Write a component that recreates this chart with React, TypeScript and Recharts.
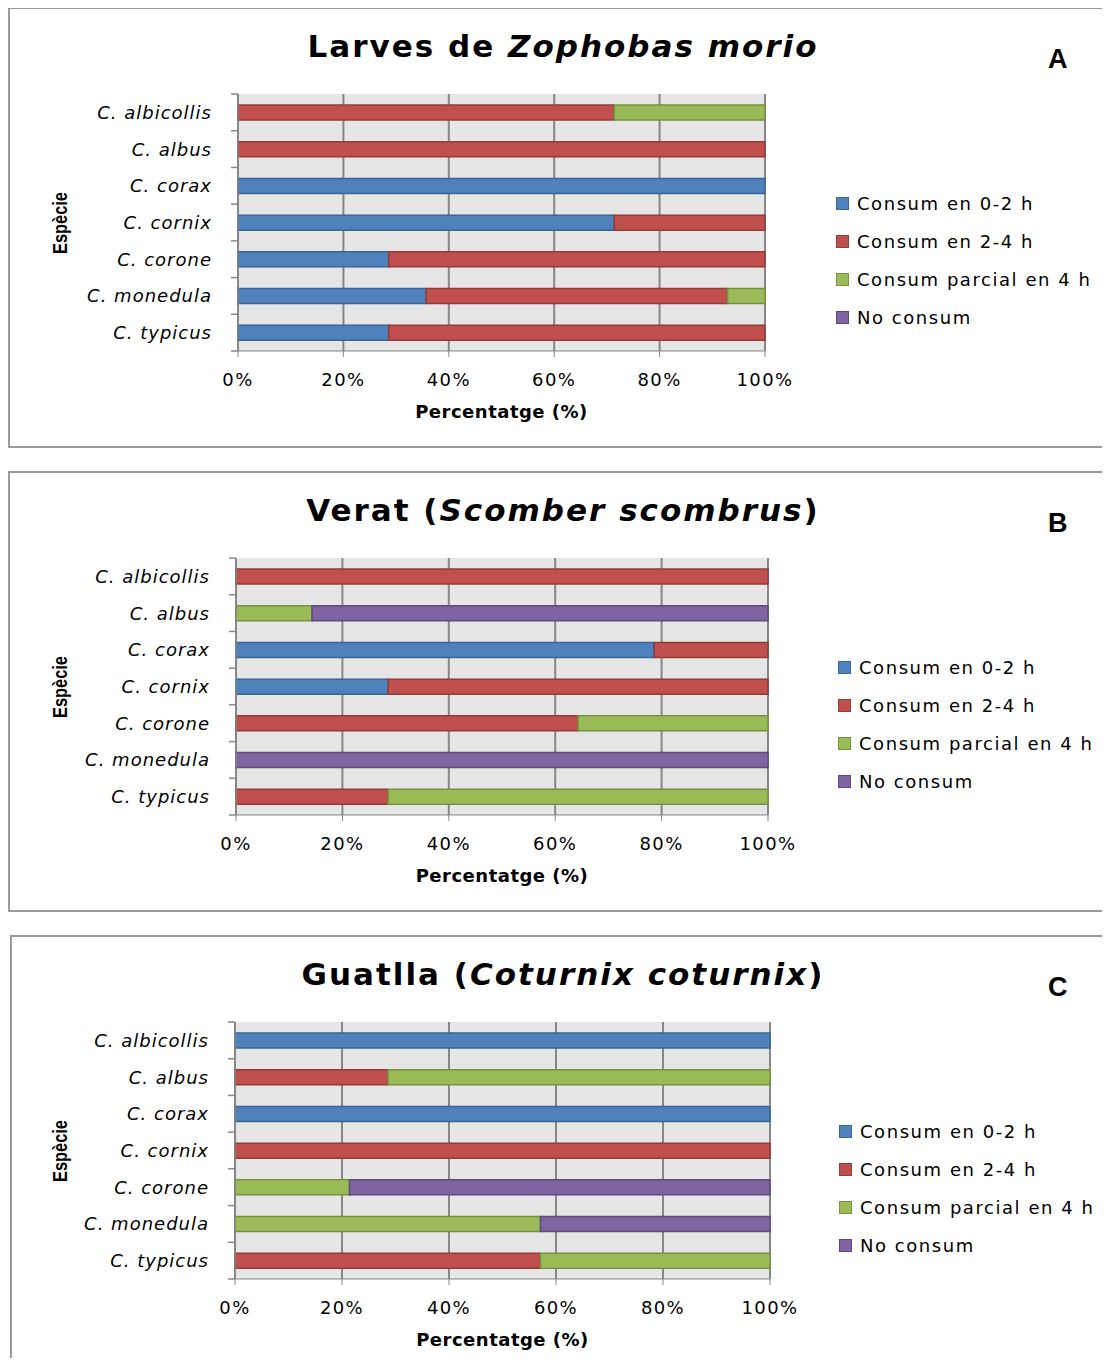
import React from 'react';
import { BarChart, Bar, XAxis, YAxis, CartesianGrid } from 'recharts';

const species = ['C. albicollis', 'C. albus', 'C. corax', 'C. cornix', 'C. corone', 'C. monedula', 'C. typicus'];
const seriesNames = ['Consum en 0-2 h', 'Consum en 2-4 h', 'Consum parcial en 4 h', 'No consum'];
const xTicks = [0, 20, 40, 60, 80, 100];

// A - Larves de Zophobas morio
const zophobas02 = [0, 0, 100, 71.4, 28.6, 35.7, 28.6];
const zophobas24 = [71.4, 100, 0, 28.6, 71.4, 57.2, 71.4];
const zophobasParcial = [28.6, 0, 0, 0, 0, 7.1, 0];
const zophobasNo = [0, 0, 0, 0, 0, 0, 0];

// B - Verat (Scomber scombrus)
const verat02 = [0, 0, 78.6, 28.6, 0, 0, 0];
const verat24 = [100, 0, 21.4, 71.4, 64.3, 0, 28.6];
const veratParcial = [0, 14.3, 0, 0, 35.7, 0, 71.4];
const veratNo = [0, 85.7, 0, 0, 0, 100, 0];

// C - Guatlla (Coturnix coturnix)
const guatlla02 = [100, 0, 100, 0, 0, 0, 0];
const guatlla24 = [0, 28.6, 0, 100, 0, 0, 57.1];
const guatllaParcial = [0, 71.4, 0, 0, 21.4, 57.1, 42.9];
const guatllaNo = [0, 0, 0, 0, 78.6, 42.9, 0];

const fills = ['#4F81BD', '#C0504D', '#9BBB59', '#8064A2'];
const strokes = ['#3A6594', '#943B38', '#76923C', '#5F4A7B'];
const keys = ['s0', 's1', 's2', 's3'];

const FONT = '"DejaVu Sans", Verdana, sans-serif';
const GRID = '#878787';

const buildRows = (a: number[], b: number[], c: number[], d: number[]) =>
  species.map((name, i) => ({ species: name, s0: a[i], s1: b[i], s2: c[i], s3: d[i] }));

const SpeciesTick = (props: any) => {
  const { x, y, payload, index, band, gap } = props;
  const axisX = x + gap;
  return (
    <g>
      <line x1={axisX - 7} x2={axisX} y1={y - band / 2} y2={y - band / 2} stroke={GRID} strokeWidth={1.5} />
      {index === species.length - 1 && (
        <line x1={axisX - 7} x2={axisX} y1={y + band / 2} y2={y + band / 2} stroke={GRID} strokeWidth={1.5} />
      )}
      <text x={x} y={y} dy="0.36em" textAnchor="end" fontFamily={FONT} fontStyle="italic" fontSize={18} letterSpacing={1} fill="#000">
        {payload.value}
      </text>
    </g>
  );
};

type PanelProps = {
  title: React.ReactNode;
  letter: string;
  rows: any[];
  boxTop: number;
  boxLeft: number;
  plotLeft: number;
  plotRight: number;
  plotTop: number;
  legendLeft: number;
  legendTop: number;
};

function Panel({ title, letter, rows, boxTop, boxLeft, plotLeft, plotRight, plotTop, legendLeft, legendTop }: PanelProps) {
  const boxH = 441;
  const plotH = 257;
  const yAxisW = 200;
  const xAxisH = 75;
  const chartW = plotRight + 40;
  const band = plotH / species.length;
  const tickSize = 8;
  const tickMargin = 18;
  return (
    <>
      <div style={{ position: 'absolute', left: boxLeft, top: boxTop, width: 1110 - boxLeft, height: boxH, borderTop: '2px solid #9a9a9a', borderBottom: '2px solid #9a9a9a', borderLeft: '2px solid #9a9a9a', boxSizing: 'border-box' }} />
      <div style={{ position: 'absolute', left: 0, width: 1126, top: boxTop + 19, textAlign: 'center', fontFamily: FONT, fontWeight: 'bold', fontSize: 31, letterSpacing: 2, lineHeight: '40px' }}>
        {title}
      </div>
      <div style={{ position: 'absolute', left: 1048, top: boxTop + 37, fontFamily: '"Liberation Sans", Arial, sans-serif', fontWeight: 'bold', fontSize: 27, lineHeight: '30px' }}>
        {letter}
      </div>
      <div style={{ position: 'absolute', left: 60, top: plotTop + plotH / 2, transform: 'translate(-50%, -50%) rotate(-90deg) scaleX(0.78)', fontFamily: '"Liberation Sans Narrow", "Liberation Sans", Arial, sans-serif', fontWeight: 'bold', fontSize: 21, whiteSpace: 'nowrap' }}>
        Espècie
      </div>
      <div style={{ position: 'absolute', left: 0, top: boxTop }}>
        <BarChart
          width={chartW}
          height={boxH}
          data={rows}
          layout="vertical"
          barSize={15}
          margin={{ top: plotTop - boxTop, left: plotLeft - yAxisW, right: chartW - plotRight, bottom: boxH - (plotTop - boxTop) - plotH - xAxisH }}
        >
          <CartesianGrid horizontal={false} stroke={GRID} strokeWidth={2} fill="#e6e6e6" fillOpacity={1} />
          <XAxis
            type="number"
            domain={[0, 100]}
            ticks={xTicks}
            tickFormatter={(v: number) => `${v}%`}
            height={xAxisH}
            stroke={GRID}
            tickSize={6}
            tickMargin={16}
            tick={{ fill: '#000', fontFamily: FONT, fontSize: 18, letterSpacing: 1.4 }}
            label={{ value: 'Percentatge (%)', position: 'insideBottom', offset: 8, fill: '#000', fontFamily: FONT, fontWeight: 'bold', fontSize: 18, letterSpacing: 0.5 }}
          />
          <YAxis
            type="category"
            dataKey="species"
            width={yAxisW}
            stroke={GRID}
            strokeWidth={1.5}
            tickLine={false}
            tickSize={tickSize}
            tickMargin={tickMargin}
            interval={0}
            tick={(p: any) => <SpeciesTick {...p} band={band} gap={tickSize + tickMargin} />}
          />
          {keys.map((k, i) => (
            <Bar key={k} dataKey={k} name={seriesNames[i]} stackId="a" fill={fills[i]} stroke={strokes[i]} strokeWidth={1.5} isAnimationActive={false} />
          ))}
        </BarChart>
      </div>
      <div style={{ position: 'absolute', left: legendLeft, top: legendTop }}>
        {seriesNames.map((n, i) => (
          <div key={n} style={{ display: 'flex', alignItems: 'center', height: 38, fontFamily: FONT, fontSize: 18, letterSpacing: 1.55, whiteSpace: 'nowrap' }}>
            <span style={{ display: 'inline-block', width: 11, height: 11, background: fills[i], border: `1.5px solid ${strokes[i]}`, marginRight: 8 }} />
            {n}
          </div>
        ))}
      </div>
    </>
  );
}

export default function App() {
  return (
    <div style={{ position: 'relative', width: 1110, height: 1366, margin: -8, overflow: 'hidden', background: '#fff' }}>
      <Panel
        title={<>Larves de <i>Zophobas morio</i></>}
        letter="A"
        rows={buildRows(zophobas02, zophobas24, zophobasParcial, zophobasNo)}
        boxTop={7}
        boxLeft={8}
        plotLeft={238}
        plotRight={765}
        plotTop={94}
        legendLeft={836}
        legendTop={184}
      />
      <Panel
        title={<>Verat (<i>Scomber scombrus</i>)</>}
        letter="B"
        rows={buildRows(verat02, verat24, veratParcial, veratNo)}
        boxTop={471}
        boxLeft={8}
        plotLeft={236}
        plotRight={768}
        plotTop={558}
        legendLeft={838}
        legendTop={648}
      />
      <Panel
        title={<>Guatlla (<i>Coturnix coturnix</i>)</>}
        letter="C"
        rows={buildRows(guatlla02, guatlla24, guatllaParcial, guatllaNo)}
        boxTop={935}
        boxLeft={10}
        plotLeft={235}
        plotRight={770}
        plotTop={1022}
        legendLeft={839}
        legendTop={1112}
      />
    </div>
  );
}
